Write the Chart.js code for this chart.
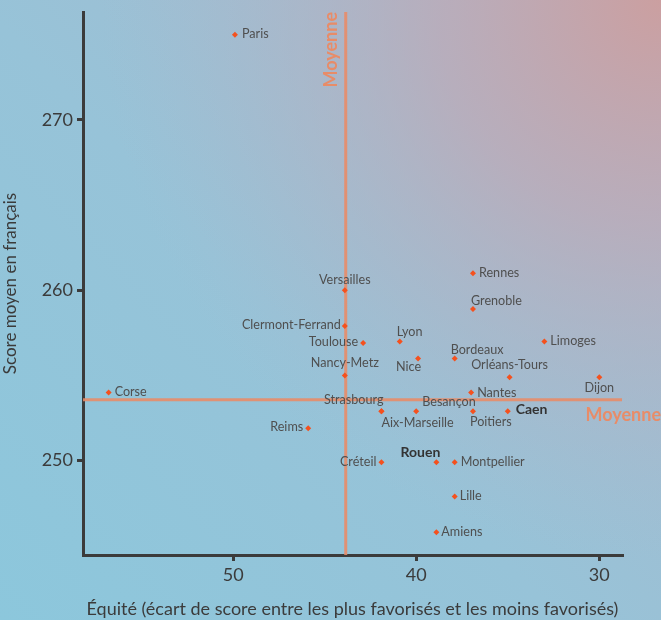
<!DOCTYPE html>
<html lang="fr">
<head>
<meta charset="utf-8">
<title>Score moyen en français et équité</title>
<script src="https://cdn.jsdelivr.net/npm/chart.js@4"></script>
<style>
  html, body { margin: 0; padding: 0; }
  #wrap { width: 661px; height: 620px; }
</style>
</head>
<body>
<div id="wrap"><canvas id="scatter" width="661" height="620"></canvas></div>
<script>
// Académies: équité (écart de score) et score moyen en français
const cities = ['Paris', 'Corse', 'Reims', 'Versailles', 'Clermont-Ferrand', 'Toulouse',
    'Nancy-Metz', 'Lyon', 'Nice', 'Bordeaux', 'Rennes', 'Grenoble', 'Limoges',
    'Orléans-Tours', 'Dijon', 'Nantes', 'Strasbourg', 'Besançon', 'Aix-Marseille',
    'Poitiers', 'Caen', 'Créteil', 'Rouen', 'Montpellier', 'Lille', 'Amiens'];
const equity = [49.9, 56.8, 45.9, 43.9, 43.9, 42.9,
    43.9, 40.9, 39.9, 37.9, 36.9, 36.9, 33.0,
    34.9, 30.0, 37.0, 41.9, 40.0, 41.9,
    36.9, 35.0, 41.9, 38.9, 37.9, 37.9, 38.9];
const score = [275.0, 254.0, 251.9, 260.0, 257.9, 256.9,
    255.0, 257.0, 256.0, 256.0, 261.0, 258.9, 257.0,
    254.9, 254.9, 254.0, 252.9, 252.9, 252.9,
    252.9, 252.9, 249.9, 249.9, 249.9, 247.9, 245.8];
const highlighted = ['Caen', 'Rouen'];

const meanEquity = 43.85;
const meanScore = 253.58;

const xTicks = [50, 40, 30];
const yTicks = [250, 260, 270];
const xRange = [28.76, 58.2];
const yRange = [244.46, 276.34];

// where each label sits around its marker: dx, dy, align
const labelPos = {
    'Paris': [7, -1, 'left'], 'Corse': [6, -1, 'left'], 'Reims': [-5, -1, 'right'],
    'Versailles': [0, -10, 'center'], 'Clermont-Ferrand': [-4, -1, 'right'],
    'Toulouse': [-5, -1, 'right'], 'Nancy-Metz': [0, -13, 'center'],
    'Lyon': [-3, -9, 'left'], 'Nice': [3, 8, 'right'], 'Bordeaux': [-4, -9, 'left'],
    'Rennes': [6, 0, 'left'], 'Grenoble': [-2, -8, 'left'], 'Limoges': [6, 0, 'left'],
    'Orléans-Tours': [0, -12, 'center'], 'Dijon': [0, 11, 'center'],
    'Nantes': [6, 0, 'left'], 'Strasbourg': [2, -11, 'right'],
    'Besançon': [6, -9, 'left'], 'Aix-Marseille': [0, 12, 'left'],
    'Poitiers': [-3, 11, 'left'], 'Caen': [8, -2, 'left'], 'Créteil': [-5, 0, 'right'],
    'Rouen': [4, -10, 'right'], 'Montpellier': [6, 0, 'left'], 'Lille': [5, 0, 'left'],
    'Amiens': [5, 0, 'left']
};

const ink = '#3b3b3b';
const meanColor = 'rgba(232, 140, 104, 0.9)';
const FONT = 'Lato, "Open Sans", sans-serif';

const points = cities.map((c, i) => ({ x: equity[i], y: score[i] }));

// painted background: blue, greyer to the right, a pink tint in the top-right corner
const backgroundPlugin = {
    id: 'paperBackground',
    beforeDraw(chart) {
        const ctx = chart.ctx;
        const w = chart.width, h = chart.height;
        ctx.save();
        const lin = ctx.createLinearGradient(0, h, w, 0);
        lin.addColorStop(0, '#8cc7dc');
        lin.addColorStop(0.45, '#97c3d8');
        lin.addColorStop(1, '#aab7cb');
        ctx.fillStyle = lin;
        ctx.fillRect(0, 0, w, h);
        const g = ctx.createRadialGradient(w, 0, 0, w, 0, 560);
        g.addColorStop(0, 'rgba(205, 158, 158, 0.95)');
        g.addColorStop(0.4, 'rgba(192, 168, 180, 0.7)');
        g.addColorStop(1, 'rgba(170, 185, 205, 0)');
        ctx.fillStyle = g;
        ctx.fillRect(0, 0, w, h);
        ctx.restore();
    }
};

// city names and "Moyenne" captions
const labelPlugin = {
    id: 'cityLabels',
    afterDatasetsDraw(chart) {
        const ctx = chart.ctx;
        const xs = chart.scales.x, ys = chart.scales.y;
        const area = chart.chartArea;
        ctx.save();
        ctx.textBaseline = 'middle';
        cities.forEach((c, i) => {
            const px = xs.getPixelForValue(equity[i]);
            const py = ys.getPixelForValue(score[i]);
            const pos = labelPos[c] || [6, 0, 'left'];
            const bold = highlighted.includes(c);
            ctx.font = bold ? `bold 14px ${FONT}` : `12.6px ${FONT}`;
            ctx.fillStyle = bold ? '#333333' : '#4f4f4f';
            ctx.textAlign = pos[2];
            ctx.fillText(c, px + pos[0], py + pos[1]);
        });

        ctx.font = `bold 18px ${FONT}`;
        ctx.fillStyle = 'rgba(232, 140, 104, 1)';
        // horizontal mean caption
        ctx.textAlign = 'right';
        ctx.fillText('Moyenne', area.right + 39, ys.getPixelForValue(meanScore) + 16);
        // vertical mean caption
        ctx.translate(xs.getPixelForValue(meanEquity) - 15, area.top);
        ctx.rotate(-Math.PI / 2);
        ctx.textAlign = 'right';
        ctx.fillText('Moyenne', 0, 0);
        ctx.restore();
    }
};

new Chart(document.getElementById('scatter'), {
    type: 'scatter',
    data: {
        datasets: [
            {
                label: 'Moyenne équité',
                type: 'line',
                data: [{ x: meanEquity, y: yRange[0] }, { x: meanEquity, y: yRange[1] }],
                borderColor: meanColor,
                borderWidth: 3,
                pointRadius: 0,
                order: 2
            },
            {
                label: 'Moyenne score',
                type: 'line',
                data: [{ x: xRange[1], y: meanScore }, { x: xRange[0], y: meanScore }],
                borderColor: meanColor,
                borderWidth: 3,
                pointRadius: 0,
                order: 2
            },
            {
                label: 'Académies',
                data: points,
                pointStyle: 'rectRot',
                pointRadius: 3,
                pointBorderWidth: 0,
                backgroundColor: '#f4511e',
                borderColor: '#f4511e',
                order: 1
            }
        ]
    },
    options: {
        responsive: false,
        animation: false,
        layout: { padding: { top: 12, right: 39, left: 0, bottom: 0 } },
        plugins: {
            legend: { display: false },
            tooltip: { enabled: false }
        },
        scales: {
            x: {
                type: 'linear',
                reverse: true,
                min: xRange[0],
                max: xRange[1],
                afterBuildTicks: s => { s.ticks = xTicks.map(v => ({ value: v })); },
                afterFit: s => { s.height = 65; s.paddingLeft = 0; s.paddingRight = 0; },
                border: { color: ink, width: 3 },
                grid: { drawOnChartArea: false, drawTicks: true, tickLength: 6, color: ink, lineWidth: 3 },
                ticks: { color: ink, font: { family: FONT, size: 18 }, padding: 3 },
                title: {
                    display: true,
                    text: 'Équité (écart de score entre les plus favorisés et les moins favorisés)',
                    color: ink,
                    font: { family: FONT, size: 18 },
                    padding: { top: 6, bottom: 0 }
                }
            },
            y: {
                type: 'linear',
                min: yRange[0],
                max: yRange[1],
                afterBuildTicks: s => { s.ticks = yTicks.map(v => ({ value: v })); },
                afterFit: s => { s.width = 83; s.paddingTop = 0; s.paddingBottom = 0; },
                border: { color: ink, width: 3 },
                grid: { drawOnChartArea: false, drawTicks: true, tickLength: 6, color: ink, lineWidth: 3 },
                ticks: { color: ink, font: { family: FONT, size: 18 }, padding: 4 },
                title: {
                    display: true,
                    text: 'Score moyen en français',
                    color: ink,
                    font: { family: FONT, size: 17 },
                    padding: { top: 0, bottom: 0 }
                }
            }
        }
    },
    plugins: [backgroundPlugin, labelPlugin]
});
</script>
</body>
</html>
